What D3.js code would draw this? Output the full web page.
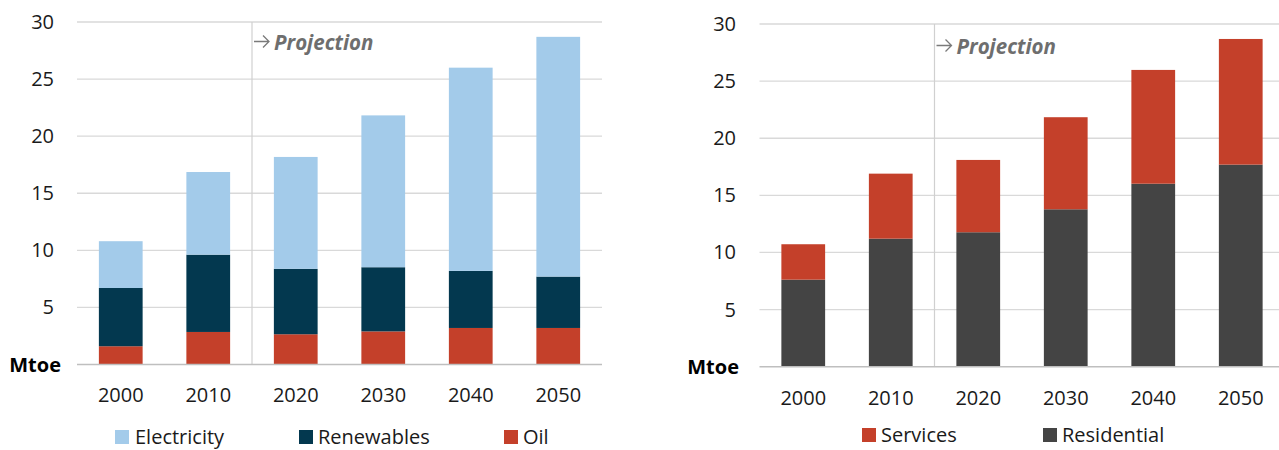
<!DOCTYPE html>
<html><head><meta charset="utf-8">
<script src="https://cdn.jsdelivr.net/npm/d3@7"></script>
<style>
body{margin:0;background:#fff;}
svg{display:block;font-family:"Open Sans","Noto Sans",sans-serif;}
</style></head>
<body><svg id="c" width="1279" height="450"></svg>
<script>
const years = ["2000","2010","2020","2030","2040","2050"];
const yTicks = [5,10,15,20,25,30];
// Left chart: by energy source (Mtoe)
const oil = [1.6, 2.85, 2.65, 2.9, 3.2, 3.2];
const renewables = [5.1, 6.77, 5.73, 5.62, 5.0, 4.5];
const electricity = [4.1, 7.24, 9.8, 13.3, 17.8, 21.0];
// Right chart: by sector (Mtoe)
const residential = [7.62, 11.21, 11.77, 13.78, 16.02, 17.69];
const services = [3.1, 5.69, 6.33, 8.06, 9.96, 11.0];

const leftSeries = [
  {name:"Oil", values:oil, color:"#c4402a"},
  {name:"Renewables", values:renewables, color:"#03384f"},
  {name:"Electricity", values:electricity, color:"#a3cbea"}
];
const leftLegend = [
  {name:"Electricity", color:"#a3cbea", x:115, tx:135},
  {name:"Renewables", color:"#03384f", x:299, tx:318},
  {name:"Oil", color:"#c4402a", x:504, tx:523}
];
const rightSeries = [
  {name:"Residential", values:residential, color:"#444444"},
  {name:"Services", values:services, color:"#c4402a"}
];
const rightLegend = [
  {name:"Services", color:"#c4402a", x:862, tx:881},
  {name:"Residential", color:"#444444", x:1043, tx:1062}
];

const svg = d3.select("#c");
const FS = 20;

function drawChart(cfg){
  const g = svg.append("g");
  const x = d3.scaleBand().domain(years).range([cfg.x0, cfg.x1]).paddingInner(0.5).paddingOuter(0.25);
  const y = d3.scaleLinear().domain([0,30]).range([cfg.yb, cfg.yt]);
  // gridlines
  g.selectAll("line.grid").data(yTicks).join("line")
    .attr("x1", cfg.x0).attr("x2", cfg.x1)
    .attr("y1", d=>y(d)).attr("y2", d=>y(d))
    .attr("stroke", "#d9d9d9").attr("stroke-width", 1.3);
  // y labels
  g.selectAll("text.yl").data(yTicks).join("text")
    .attr("x", cfg.ylx).attr("y", d=>y(d)).attr("dy","0.35em")
    .attr("text-anchor","end").attr("font-size",FS).attr("fill","#1a1a1a")
    .text(d=>d);
  g.append("text").attr("x", cfg.mx).attr("y", y(0)).attr("dy","0.35em")
    .attr("text-anchor","end").attr("font-size",FS).attr("font-weight","bold").attr("fill","#000")
    .text("Mtoe");
  // projection line
  const px = x("2020") - x.step()*0.25;
  g.append("line").attr("x1",px).attr("x2",px).attr("y1",y(30)).attr("y2",y(0))
    .attr("stroke","#d0d0d0").attr("stroke-width",1.2);
  // arrow
  const ay = cfg.py - 1;
  g.append("path")
    .attr("d", `M${px+2},${ay}H${px+17}M${px+11},${ay-6}L${px+17},${ay}L${px+11},${ay+6}`)
    .attr("fill","none").attr("stroke","#7a7a7a").attr("stroke-width",1.3);
  g.append("text").attr("x", px+22).attr("y", cfg.py).attr("dy","0.35em")
    .attr("font-size",20.5).attr("fill","#6e6e6e").attr("font-weight","bold").attr("font-style","italic")
    .text("Projection");
  // stacked bars
  const stack = d3.stack().keys(cfg.series.map((s,i)=>i)).value((d,k)=>cfg.series[k].values[d]);
  const layers = stack(years.map((_,i)=>i));
  layers.forEach((layer,k)=>{
    g.append("g").selectAll("rect").data(layer).join("rect")
      .attr("x",(d,i)=>x(years[i])).attr("width",x.bandwidth())
      .attr("y",d=>y(d[1])).attr("height",d=>y(d[0])-y(d[1]))
      .attr("fill",cfg.series[k].color);
  });
  // baseline
  g.append("line").attr("x1",cfg.x0).attr("x2",cfg.x1).attr("y1",y(0)).attr("y2",y(0))
    .attr("stroke","#bfbfbf").attr("stroke-width",1.5);
  // x labels
  g.selectAll("text.xl").data(years).join("text")
    .attr("x",d=>x(d)+x.bandwidth()/2).attr("y",cfg.xly).attr("dy","0.35em")
    .attr("text-anchor","middle").attr("font-size",FS).attr("fill","#1a1a1a").text(d=>d);
  // legend
  const lg = g.selectAll("g.lg").data(cfg.legend).join("g");
  lg.append("rect").attr("x",d=>d.x).attr("y",cfg.ly-7).attr("width",14).attr("height",14).attr("fill",d=>d.color);
  lg.append("text").attr("x",d=>d.tx).attr("y",cfg.ly).attr("dy","0.35em")
    .attr("font-size",FS).attr("fill","#1a1a1a").text(d=>d.name);
}

drawChart({x0:77, x1:602, yb:364.5, yt:22, ylx:54, mx:61, py:42.5, xly:395, ly:437,
  series:leftSeries, legend:leftLegend});
drawChart({x0:759.5, x1:1284.5, yb:366.7, yt:24, ylx:736, mx:739, py:46.5, xly:397.5, ly:435,
  series:rightSeries, legend:rightLegend});
</script></body></html>
